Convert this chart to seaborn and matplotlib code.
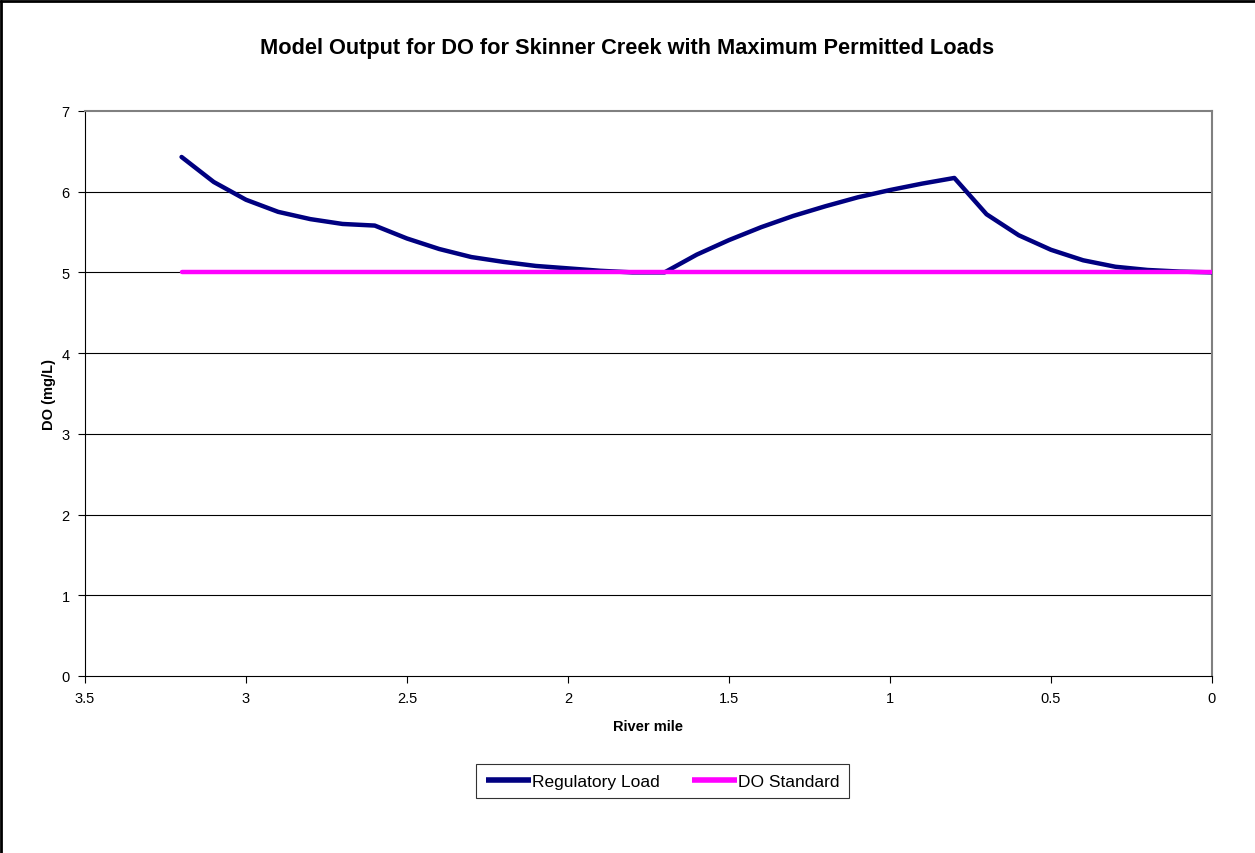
import numpy as np
import pandas as pd
import matplotlib
matplotlib.use("Agg")
import matplotlib.pyplot as plt
import seaborn as sns

# river mile stations and modelled DO
river_mile = [3.2, 3.1, 3.0, 2.9, 2.8, 2.7, 2.6, 2.5, 2.4, 2.3, 2.2, 2.1, 2.0, 1.9, 1.8,
              1.7, 1.6, 1.5, 1.4, 1.3, 1.2, 1.1, 1.0, 0.9, 0.8, 0.7, 0.6, 0.5, 0.4, 0.3,
              0.2, 0.1, 0.0]
regulatory_load = [6.43, 6.12, 5.90, 5.75, 5.66, 5.60, 5.58, 5.42, 5.29, 5.19, 5.13, 5.08,
                   5.05, 5.02, 5.00, 5.00, 5.22, 5.40, 5.56, 5.70, 5.82, 5.93, 6.02, 6.10,
                   6.17, 5.72, 5.46, 5.28, 5.15, 5.07, 5.03, 5.01, 5.00]
do_standard = [5.0] * len(river_mile)

df = pd.DataFrame({"River mile": river_mile * 2,
                   "DO": regulatory_load + do_standard,
                   "series": ["Regulatory Load"] * len(river_mile) + ["DO Standard"] * len(river_mile)})

sns.set_style("white")
plt.rcParams['font.family'] = ['Liberation Sans', 'DejaVu Sans']
plt.rcParams['text.color'] = 'black'
plt.rcParams['axes.labelcolor'] = 'black'
plt.rcParams['xtick.color'] = 'black'
plt.rcParams['ytick.color'] = 'black'

fig = plt.figure(figsize=(12.55, 8.54), dpi=100)
ax = fig.add_axes([0.0677, 0.2073, 0.8980, 0.6616])

# horizontal gridlines first so lines sit on top
for yv in range(1, 7):
    ax.axhline(yv, color='black', lw=0.8, zorder=1)

sns.lineplot(data=df, x="River mile", y="DO", hue="series",
             palette={"Regulatory Load": "#000080", "DO Standard": "#FF00FF"},
             linewidth=3.2, ax=ax, legend=False, zorder=3, sort=False,
             estimator=None)

ax.set_xlim(3.5, 0)
ax.set_ylim(0, 7)
ax.set_xticks([3.5, 3, 2.5, 2, 1.5, 1, 0.5, 0])
ax.set_xticklabels(['3.5', '3', '2.5', '2', '1.5', '1', '0.5', '0'])
ax.set_yticks(range(0, 8))
ax.tick_params(axis='both', direction='out', length=5, width=0.8, labelsize=10.5,
               color='black', labelcolor='black', bottom=True, left=True)
ax.tick_params(axis='x', pad=6)
ax.tick_params(axis='y', pad=6)

for side in ['top', 'right']:
    ax.spines[side].set_color('#808080')
    ax.spines[side].set_linewidth(1.5)
for side in ['left', 'bottom']:
    ax.spines[side].set_color('black')
    ax.spines[side].set_linewidth(0.8)

ax.set_xlabel("River mile", fontsize=10.5, fontweight='bold', labelpad=10, color='black')
ax.set_ylabel("DO (mg/L)", fontsize=10.5, fontweight='bold', labelpad=4, color='black')
fig.suptitle("Model Output for DO for Skinner Creek with Maximum Permitted Loads",
             fontsize=15.7, fontweight='bold', y=0.955, color='black')

handles = [plt.Line2D([], [], color="#000080", lw=4, solid_capstyle='butt'),
           plt.Line2D([], [], color="#FF00FF", lw=4, solid_capstyle='butt')]
leg = fig.legend(handles, ["Regulatory Load", "DO Standard"], loc='center',
                 bbox_to_anchor=(0.528, 0.0843), ncol=2, fontsize=12.5,
                 frameon=True, fancybox=False, handlelength=2.6, handletextpad=0.05,
                 columnspacing=1.9, borderpad=0.55, borderaxespad=0)
leg.get_frame().set_edgecolor('black')
leg.get_frame().set_linewidth(0.8)

# outer chart border: only top and left edges are visible in the original
fig.add_artist(plt.Line2D([0.001, 0.001], [0, 0.998], transform=fig.transFigure,
                          color='black', lw=2))
fig.add_artist(plt.Line2D([0, 1], [0.998, 0.998], transform=fig.transFigure,
                          color='black', lw=2))

fig.savefig("out.png", dpi=100)
